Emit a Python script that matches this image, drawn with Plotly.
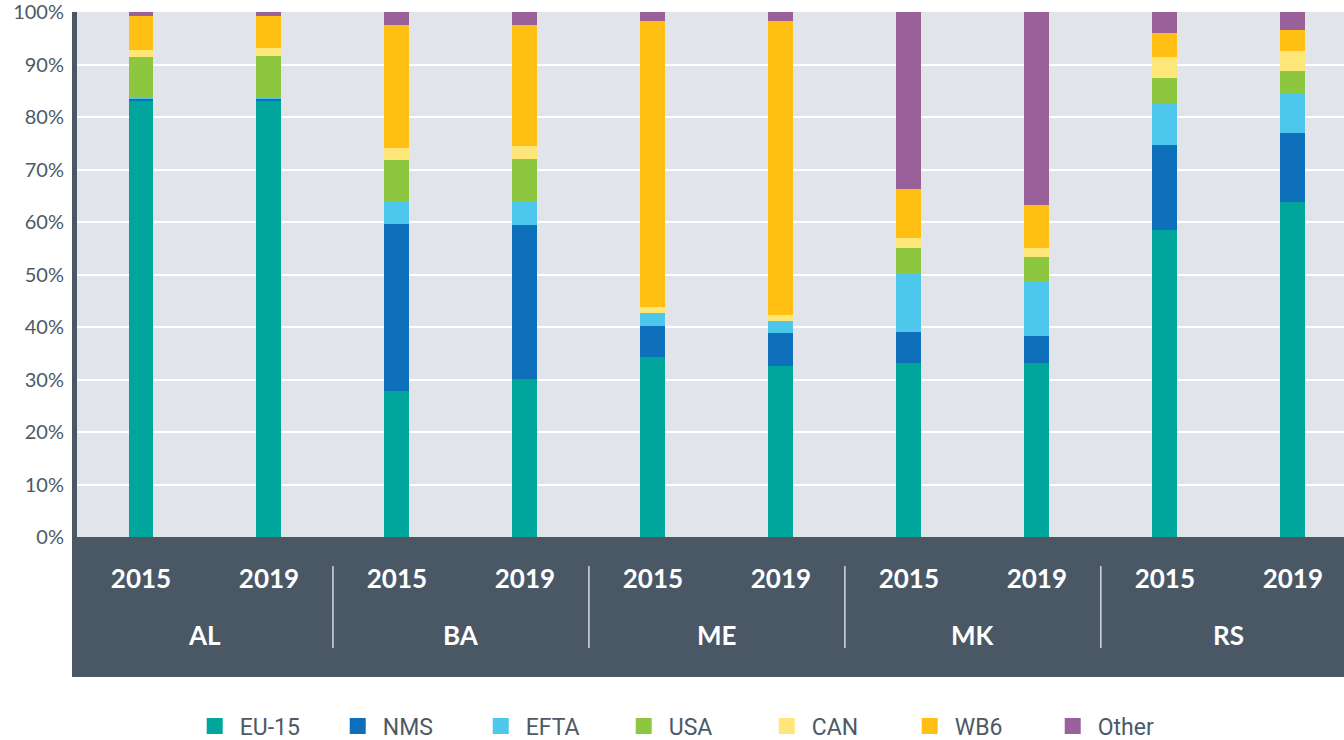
import plotly.graph_objects as go

countries = ["AL", "BA", "ME", "MK", "RS"]
years = ["2015", "2019", "2015", "2019", "2015", "2019", "2015", "2019", "2015", "2019"]

series_names = ["EU-15", "NMS", "EFTA", "USA", "CAN", "WB6", "Other"]
colors = ["#00a69c", "#0e70ba", "#4dc7ec", "#8dc63f", "#ffe679", "#ffc013", "#9a6099"]

eu15  = [83.1, 83.1, 27.8, 30.1, 34.3, 32.6, 33.1, 33.1, 58.5, 63.9]
nms   = [0.5, 0.3, 31.8, 29.3, 6.0, 6.3, 6.0, 5.2, 16.2, 13.0]
efta  = [0.2, 0.4, 4.3, 4.5, 2.3, 2.2, 11.1, 10.5, 7.9, 7.7]
usa   = [7.7, 7.9, 7.9, 8.2, 0.0, 0.0, 4.8, 4.5, 4.9, 4.3]
can   = [1.4, 1.5, 2.4, 2.4, 1.2, 1.2, 2.0, 1.8, 3.9, 3.7]
wb6   = [6.3, 6.0, 23.3, 23.0, 54.6, 56.1, 9.4, 8.2, 4.6, 4.0]
other = [0.8, 0.8, 2.5, 2.5, 1.6, 1.6, 33.6, 36.7, 4.0, 3.4]
y_ticks = [0, 10, 20, 30, 40, 50, 60, 70, 80, 90, 100]
y_tick_labels = ["0%", "10%", "20%", "30%", "40%", "50%", "60%", "70%", "80%", "90%", "100%"]

series_values = [eu15, nms, efta, usa, can, wb6, other]

DARK = "#4a5765"
TEXT = "#4d5a66"
xpos = list(range(len(years)))

fig = go.Figure()
for name, vals, col in zip(series_names, series_values, colors):
    fig.add_trace(go.Bar(x=xpos, y=vals, name=name, marker=dict(color=col, line=dict(width=0)),
                         width=0.195, showlegend=False))
# legend entries with large square swatches
for name, col in zip(series_names, colors):
    fig.add_trace(go.Scatter(x=[None], y=[None], mode="markers", name=name,
                             marker=dict(symbol="square", size=20, color=col), showlegend=True))

W, H = 1344, 740
ml, mr, mt, mb = 77, 0, 12, 203
pw = W - ml - mr
ph = H - mt - mb

shapes = []
# dark band below the axis plus left axis line
shapes.append(dict(type="rect", xref="paper", yref="paper", x0=-5 / pw, x1=1,
                   y0=-(677 - 537) / ph, y1=0, fillcolor=DARK, line=dict(width=0), layer="below"))
shapes.append(dict(type="rect", xref="paper", yref="paper", x0=-5 / pw, x1=0,
                   y0=0, y1=1, fillcolor=DARK, line=dict(width=0), layer="below"))
# group dividers
for i in range(len(countries) - 1):
    xd = 2 * i + 1.5
    shapes.append(dict(type="line", xref="x", yref="paper", x0=xd, x1=xd,
                       y0=-(566 - 537) / ph, y1=-(648 - 537) / ph,
                       line=dict(color="#d5dade", width=1.5), layer="above"))

annotations = []
for i, c in enumerate(countries):
    annotations.append(dict(x=2 * i + 0.5, xref="x", y=-(635 - 537) / ph, yref="paper",
                            text=c, showarrow=False, yanchor="middle", xanchor="center",
                            font=dict(family="Lato", size=26, color="white", weight="bold")))

fig.update_layout(
    width=W, height=H,
    margin=dict(l=ml, r=mr, t=mt, b=mb, pad=0, autoexpand=False),
    barmode="stack",
    paper_bgcolor="white",
    plot_bgcolor="#e1e5e9",
    shapes=shapes,
    annotations=annotations,
    legend=dict(orientation="h", x=0.484, xanchor="center", y=-(726 - 537) / ph, yanchor="middle",
                font=dict(family="Roboto", size=23, color=TEXT), traceorder="normal",
                itemsizing="trace", entrywidth=88, itemwidth=40),
    xaxis=dict(range=[-0.5, 9.4], tickvals=xpos, ticktext=years, showgrid=False, zeroline=False,
               ticks="", showline=False, ticklabelstandoff=24, automargin=False,
               tickfont=dict(family="Lato", size=26, color="white", weight="bold")),
    yaxis=dict(range=[0, 100.05], tickmode="array", tickvals=y_ticks, ticktext=y_tick_labels,
               showgrid=True, gridcolor="white", ticklabeloverflow="allow",
               gridwidth=1.5, zeroline=False, showline=False, ticks="", ticklabelstandoff=12,
               automargin=False, tickfont=dict(family="Lato", size=20, color=TEXT)),
)

fig.write_html("out.html", config={"displayModeBar": False},
               post_script="document.body.style.margin='0';document.body.style.overflow='hidden';")
